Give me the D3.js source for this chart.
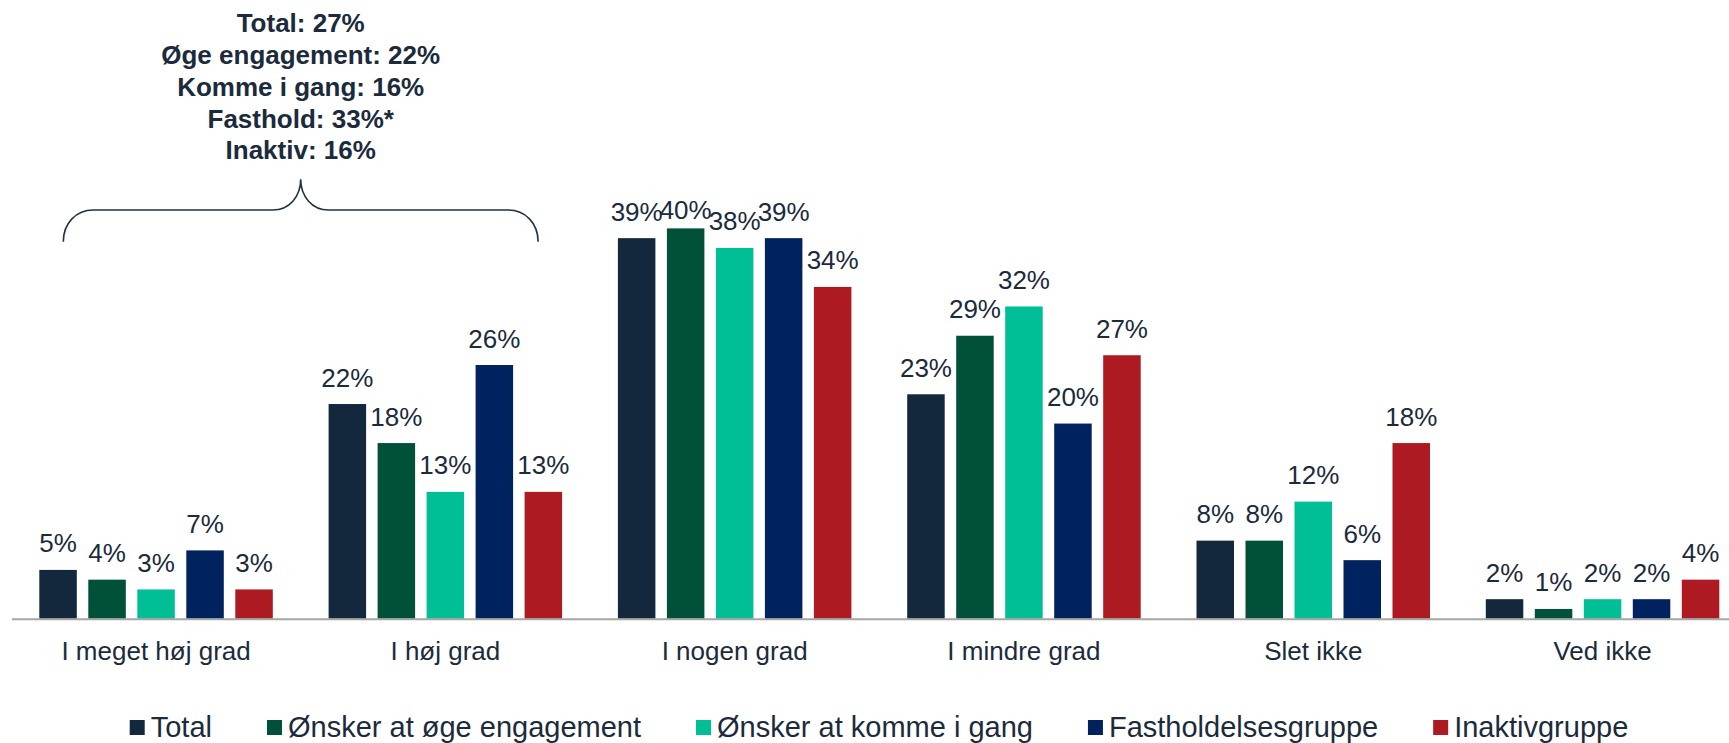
<!DOCTYPE html>
<html lang="da">
<head>
<meta charset="utf-8">
<script src="https://cdn.jsdelivr.net/npm/d3@7"></script>
<style>
  html, body { margin: 0; padding: 0; background: #ffffff; }
  svg { display: block; font-family: "Liberation Sans", Arial, sans-serif; }
</style>
</head>
<body>
<svg id="chart" width="1729" height="743"></svg>
<script>
// Answer categories (x axis)
const categories = ["I meget høj grad", "I høj grad", "I nogen grad", "I mindre grad", "Slet ikke", "Ved ikke"];

// Respondent groups (legend order)
const seriesNames = ["Total", "Ønsker at øge engagement", "Ønsker at komme i gang", "Fastholdelsesgruppe", "Inaktivgruppe"];
const seriesColors = ["#13283d", "#00503a", "#00bf96", "#00225f", "#ae1a21"];

// Share of respondents (%) per category, one array per group
const total          = [5, 22, 39, 23, 8, 2];
const oegeEngagement = [4, 18, 40, 29, 8, 1];
const kommeIGang     = [3, 13, 38, 32, 12, 2];
const fasthold       = [7, 26, 39, 20, 6, 2];
const inaktiv        = [3, 13, 34, 27, 18, 4];

// Summary text over the two top categories
const summaryLines = ["Total: 27%", "Øge engagement: 22%", "Komme i gang: 16%", "Fasthold: 33%*", "Inaktiv: 16%"];

const seriesValues = [total, oegeEngagement, kommeIGang, fasthold, inaktiv];
const rows = categories.map((c, i) => ({
  category: c,
  values: seriesNames.map((s, j) => ({ series: s, color: seriesColors[j], value: seriesValues[j][i] }))
}));

const textColor = "#1b2b3c";
const svg = d3.select("#chart");

const groupStep = 289.3;
const x0 = d3.scaleBand()
  .domain(categories)
  .range([11.4, 11.4 + groupStep * categories.length])
  .padding(0);

const x1 = d3.scaleBand()
  .domain(seriesNames)
  .range([27.9, 27.9 + 233.5])
  .paddingInner(0.2347)
  .paddingOuter(0);

const y = d3.scaleLinear().domain([0, 40]).range([618.7, 228.4]);

// Bars
const groups = svg.append("g").selectAll("g")
  .data(rows)
  .join("g")
  .attr("transform", d => `translate(${x0(d.category)},0)`);

groups.selectAll("rect")
  .data(d => d.values)
  .join("rect")
  .attr("x", d => x1(d.series))
  .attr("y", d => y(d.value))
  .attr("width", x1.bandwidth())
  .attr("height", d => y(0) - y(d.value))
  .attr("fill", d => d.color);

// Value labels
groups.selectAll("text")
  .data(d => d.values)
  .join("text")
  .attr("x", d => x1(d.series) + x1.bandwidth() / 2)
  .attr("y", d => Math.max(y(d.value) - 17.5, 219))
  .attr("text-anchor", "middle")
  .attr("font-size", 26)
  .attr("fill", textColor)
  .text(d => d.value + "%");

// Baseline axis
const xAxis = d3.axisBottom(x0).tickSize(0).tickPadding(0);
const axisG = svg.append("g")
  .attr("transform", `translate(0,${y(0)})`)
  .call(xAxis);
axisG.select(".domain")
  .attr("stroke", "#a6a6a6")
  .attr("stroke-width", 2);
axisG.selectAll(".tick text")
  .attr("font-size", 26)
  .attr("font-family", "Liberation Sans, Arial, sans-serif")
  .attr("fill", textColor)
  .attr("dy", null)
  .attr("y", 41.5);

// Brace spanning the first two categories
const bx0 = x0(categories[0]) + x1(seriesNames[0]) + 24;
const bx1 = x0(categories[1]) + x1(seriesNames[seriesNames.length - 1]) + x1.bandwidth() - 24;
const bmid = (bx0 + bx1) / 2;
const yEnd = 241.7, yLine = 210, yTip = 179.3;
const bracePath = d3.path();
bracePath.moveTo(bx0, yEnd);
bracePath.bezierCurveTo(bx0, yLine + 13, bx0 + 13, yLine, bx0 + 30, yLine);
bracePath.lineTo(bmid - 28, yLine);
bracePath.bezierCurveTo(bmid - 11, yLine, bmid, yLine - 14, bmid, yTip);
bracePath.bezierCurveTo(bmid, yLine - 14, bmid + 11, yLine, bmid + 28, yLine);
bracePath.lineTo(bx1 - 30, yLine);
bracePath.bezierCurveTo(bx1 - 13, yLine, bx1, yLine + 13, bx1, yEnd);
svg.append("path")
  .attr("d", bracePath.toString())
  .attr("fill", "none")
  .attr("stroke", "#1f3346")
  .attr("stroke-width", 1.6);

// Summary text
svg.append("g").selectAll("text")
  .data(summaryLines)
  .join("text")
  .attr("x", bmid)
  .attr("y", (d, i) => 32.3 + i * 31.75)
  .attr("text-anchor", "middle")
  .attr("font-size", 26)
  .attr("font-weight", "bold")
  .attr("fill", textColor)
  .text(d => d);

// Legend
const legend = svg.append("g");
const legendItems = legend.selectAll("g")
  .data(seriesNames.map((s, i) => ({ name: s, color: seriesColors[i] })))
  .join("g");
legendItems.append("rect")
  .attr("x", 0).attr("y", 720)
  .attr("width", 15).attr("height", 15)
  .attr("fill", d => d.color);
legendItems.append("text")
  .attr("x", 21).attr("y", 737)
  .attr("font-size", 29)
  .attr("fill", textColor)
  .text(d => d.name);

const gap = 55;
const widths = [];
legendItems.each(function () {
  widths.push(21 + d3.select(this).select("text").node().getComputedTextLength());
});
const legendWidth = d3.sum(widths) + gap * (widths.length - 1);
let cursor = 879 - legendWidth / 2;
legendItems.each(function (d, i) {
  d3.select(this).attr("transform", `translate(${cursor},0)`);
  cursor += widths[i] + gap;
});
</script>
</body>
</html>
